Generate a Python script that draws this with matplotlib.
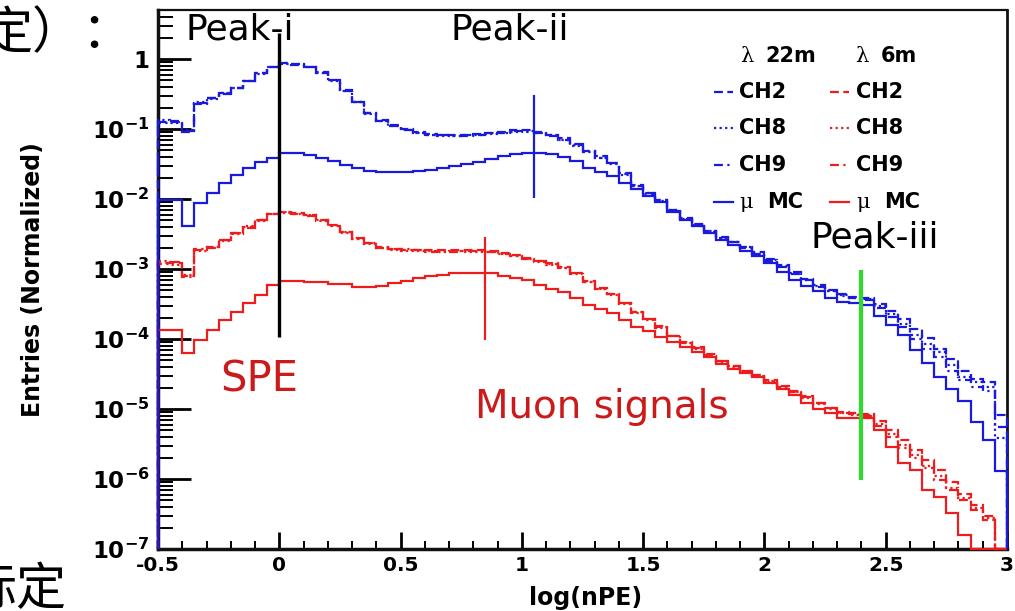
import numpy as np
import matplotlib
matplotlib.use("Agg")
import matplotlib.pyplot as plt
from matplotlib.lines import Line2D
from matplotlib.ticker import FixedLocator, FixedFormatter, LogLocator, NullFormatter, MultipleLocator, FuncFormatter

nan = np.nan

# ---- histogram binning: log10(nPE) from -0.5 to 3.0, 70 bins ----
x_lo, x_hi, n_bins = -0.5, 3.0, 70

# ---- normalized entries, stored as log10(entries); nan = empty bin ----
# attenuation length 22 m (blue)
log_ch2_22m = [-0.90, -0.89, -1.03, -0.63, -0.56, -0.49, -0.41, -0.31, -0.20, -0.11,
               -0.06, -0.07, -0.11, -0.19, -0.30, -0.44, -0.61, -0.77, -0.87, -0.94,
               -1.00, -1.04, -1.07, -1.08, -1.09, -1.08, -1.07, -1.05, -1.04, -1.02,
               -1.02, -1.04, -1.08, -1.13, -1.22, -1.31, -1.39, -1.48, -1.63, -1.80,
               -1.91, -2.01, -2.15, -2.27, -2.36, -2.45, -2.54, -2.61, -2.68, -2.76,
               -2.86, -2.94, -3.04, -3.14, -3.23, -3.30, -3.36, -3.40, -3.41, -3.50,
               -3.60, -3.71, -3.85, -3.99, -4.14, -4.28, -4.45, -4.57, -4.62, -5.09]
log_ch8_22m = [-0.87, -0.92, -1.02, -0.62, -0.57, -0.48, -0.42, -0.31, -0.21, -0.11,
               -0.07, -0.07, -0.12, -0.20, -0.31, -0.45, -0.62, -0.78, -0.88, -0.95,
               -1.02, -1.06, -1.09, -1.10, -1.10, -1.09, -1.09, -1.07, -1.05, -1.04,
               -1.03, -1.05, -1.09, -1.15, -1.24, -1.33, -1.41, -1.50, -1.65, -1.81,
               -1.92, -2.03, -2.16, -2.28, -2.37, -2.46, -2.55, -2.62, -2.69, -2.78,
               -2.87, -2.96, -3.06, -3.15, -3.24, -3.31, -3.37, -3.41, -3.43, -3.53,
               -3.64, -3.78, -3.94, -4.07, -4.18, -4.37, -4.54, -4.62, -4.68, -5.42]
log_ch9_22m = [-0.92, -0.90, -1.04, -0.64, -0.56, -0.50, -0.41, -0.32, -0.20, -0.12,
               -0.06, -0.08, -0.11, -0.20, -0.30, -0.45, -0.62, -0.77, -0.88, -0.96,
               -1.01, -1.06, -1.08, -1.09, -1.10, -1.10, -1.08, -1.06, -1.06, -1.03,
               -1.04, -1.05, -1.10, -1.16, -1.23, -1.32, -1.42, -1.49, -1.64, -1.81,
               -1.93, -2.02, -2.17, -2.28, -2.38, -2.47, -2.56, -2.62, -2.70, -2.79,
               -2.88, -2.97, -3.07, -3.16, -3.25, -3.32, -3.38, -3.42, -3.44, -3.56,
               -3.68, -3.83, -4.00, -4.14, -4.25, -4.45, -4.59, -4.68, -4.74, -5.25]
log_mc_22m = [-2.01, -2.01, -2.39, -2.05, -1.91, -1.77, -1.66, -1.56, -1.47, -1.41,
              -1.34, -1.34, -1.37, -1.41, -1.46, -1.51, -1.56, -1.60, -1.62, -1.62,
              -1.62, -1.60, -1.58, -1.56, -1.53, -1.50, -1.47, -1.43, -1.39, -1.36,
              -1.34, -1.34, -1.36, -1.40, -1.46, -1.55, -1.61, -1.67, -1.77, -1.85,
              -1.95, -2.04, -2.18, -2.30, -2.39, -2.49, -2.59, -2.66, -2.74, -2.82,
              -2.92, -3.04, -3.15, -3.24, -3.32, -3.41, -3.47, -3.48, -3.52, -3.67,
              -3.80, -3.94, -4.15, -4.34, -4.54, -4.72, -4.89, -5.19, -5.44, -5.89]

# attenuation length 6 m (red)
log_ch2_6m = [-2.91, -2.92, -3.10, -2.73, -2.69, -2.59, -2.49, -2.40, -2.30, -2.21,
              -2.19, -2.20, -2.23, -2.30, -2.37, -2.47, -2.56, -2.63, -2.69, -2.72,
              -2.73, -2.73, -2.73, -2.73, -2.73, -2.73, -2.73, -2.74, -2.77, -2.80,
              -2.84, -2.88, -2.92, -2.97, -3.05, -3.17, -3.27, -3.35, -3.48, -3.61,
              -3.71, -3.82, -3.95, -4.04, -4.12, -4.22, -4.31, -4.38, -4.45, -4.51,
              -4.59, -4.67, -4.74, -4.82, -4.91, -4.98, -5.04, -5.06, -5.07, -5.17,
              -5.30, -5.44, -5.59, -5.73, -5.87, -6.04, -6.21, -6.37, -6.53, nan]
log_ch8_6m = [-2.89, -2.94, -3.09, -2.74, -2.68, -2.60, -2.50, -2.39, -2.31, -2.22,
              -2.20, -2.21, -2.23, -2.31, -2.38, -2.48, -2.57, -2.64, -2.70, -2.73,
              -2.74, -2.74, -2.74, -2.75, -2.74, -2.75, -2.75, -2.76, -2.79, -2.82,
              -2.86, -2.90, -2.94, -2.99, -3.07, -3.19, -3.29, -3.37, -3.50, -3.63,
              -3.73, -3.84, -3.96, -4.06, -4.14, -4.24, -4.33, -4.40, -4.47, -4.53,
              -4.61, -4.69, -4.76, -4.84, -4.93, -5.00, -5.06, -5.08, -5.09, -5.21,
              -5.36, -5.51, -5.66, -5.81, -5.96, -6.13, -6.27, -6.41, -6.56, nan]
log_ch9_6m = [-2.93, -2.90, -3.11, -2.72, -2.70, -2.58, -2.49, -2.41, -2.30, -2.22,
              -2.18, -2.21, -2.24, -2.30, -2.38, -2.47, -2.57, -2.63, -2.70, -2.72,
              -2.72, -2.73, -2.75, -2.74, -2.75, -2.74, -2.74, -2.76, -2.78, -2.81,
              -2.85, -2.89, -2.93, -2.98, -3.06, -3.18, -3.28, -3.36, -3.49, -3.62,
              -3.72, -3.83, -3.96, -4.05, -4.13, -4.23, -4.32, -4.39, -4.46, -4.52,
              -4.60, -4.68, -4.75, -4.83, -4.92, -4.99, -5.05, -5.07, -5.10, -5.24,
              -5.40, -5.56, -5.70, -5.84, -6.01, -6.16, -6.30, -6.44, -6.59, nan]
log_mc_6m = [-3.87, -3.87, -4.20, -4.01, -3.87, -3.73, -3.61, -3.49, -3.37, -3.23,
             -3.17, -3.17, -3.19, -3.19, -3.21, -3.21, -3.26, -3.26, -3.24, -3.20,
             -3.17, -3.13, -3.10, -3.08, -3.06, -3.06, -3.06, -3.06, -3.10, -3.13,
             -3.16, -3.23, -3.29, -3.33, -3.41, -3.51, -3.57, -3.63, -3.73, -3.83,
             -3.89, -3.97, -4.04, -4.11, -4.19, -4.26, -4.36, -4.43, -4.49, -4.54,
             -4.63, -4.71, -4.80, -4.91, -5.00, -5.06, -5.13, -5.13, -5.13, -5.30,
             -5.54, -5.77, -5.87, -6.16, -6.26, -6.49, -6.80, nan, nan, nan]

# ---- peak markers: position in log(nPE) and vertical extent (log10 entries) ----
peak_x = [0.0, 0.85, 1.05, 2.4]
peak_lo = [-3.97, -4.01, -1.99, -6.01]
peak_hi = [0.37, -2.54, -0.51, -3.01]
peak_colors = ["black", "#ee1c1c", "#1a1adc", "#2bdc2b"]
peak_widths = [2.4, 1.6, 1.6, 3.0]

# ---- axis ticks ----
y_decades = [-7, -6, -5, -4, -3, -2, -1, 0]
y_tick_labels = [r"$10^{-7}$", r"$10^{-6}$", r"$10^{-5}$", r"$10^{-4}$",
                 r"$10^{-3}$", r"$10^{-2}$", r"$10^{-1}$", r"$1$"]

BLUE = "#1a1adc"
RED = "#ee1c1c"
TXT_RED = "#cc1a1a"

plt.rcParams["font.family"] = ["DejaVu Sans"]
plt.rcParams["font.weight"] = "bold"
plt.rcParams["mathtext.fontset"] = "dejavusans"
plt.rcParams["mathtext.default"] = "bf"
plt.rcParams["axes.unicode_minus"] = False

W, H = 1015, 611
fig = plt.figure(figsize=(W / 100, H / 100), dpi=100, facecolor="white")


def fx(px):
    return px / W


def fy(py):
    return 1 - py / H


ax = fig.add_axes([fx(158), fy(549), fx(1007) - fx(158), fy(10) - fy(549)])
ax.set_yscale("log")
y_min, y_max = 1e-7, 10 ** 0.70
edges = np.linspace(x_lo, x_hi, n_bins + 1)


def entries(logs):
    arr = np.asarray(logs, dtype=float)
    return np.where(np.isnan(arr), 0.0, 10.0 ** arr)


# red first so that the blue histogram edges sit on top along the left frame
series = [
    (log_ch2_6m, RED, (0, (4, 2))),
    (log_ch8_6m, RED, (0, (1, 1.5))),
    (log_ch9_6m, RED, (0, (4, 2, 1, 2))),
    (log_mc_6m, RED, "-"),
    (log_ch2_22m, BLUE, (0, (4, 2))),
    (log_ch8_22m, BLUE, (0, (1, 1.5))),
    (log_ch9_22m, BLUE, (0, (4, 2, 1, 2))),
    (log_mc_22m, BLUE, "-"),
]
for logs, col, ls in series:
    vals = entries(logs)
    ax.stairs(np.where(vals > y_min, vals, y_min), edges, baseline=y_min,
              color=col, linestyle=ls, linewidth=1.6, zorder=6, clip_on=False)

for xp, lo, hi, col, lw in zip(peak_x, peak_lo, peak_hi, peak_colors, peak_widths):
    ax.plot([xp, xp], [10.0 ** lo, 10.0 ** hi], color=col, linewidth=lw,
            solid_capstyle="butt", zorder=7, clip_on=False)

ax.set_xlim(x_lo, x_hi)
ax.set_ylim(y_min, y_max)

ax.yaxis.set_major_locator(FixedLocator([10.0 ** d for d in y_decades]))
ax.yaxis.set_major_formatter(FixedFormatter(y_tick_labels))
ax.yaxis.set_minor_locator(LogLocator(base=10, subs=np.arange(2, 10), numticks=30))
ax.yaxis.set_minor_formatter(NullFormatter())
ax.xaxis.set_major_locator(MultipleLocator(0.5))
ax.xaxis.set_minor_locator(MultipleLocator(0.1))
ax.xaxis.set_major_formatter(FuncFormatter(lambda v, p: "%g" % v))

ax.tick_params(axis="y", which="major", direction="in", length=24, width=2,
               labelsize=16.5, pad=6, color="black")
ax.tick_params(axis="y", which="minor", direction="in", length=11, width=1.4)
ax.tick_params(axis="x", which="major", direction="in", length=12, width=2,
               labelsize=14.5, pad=5)
ax.tick_params(axis="x", which="minor", direction="in", length=6, width=1.4)

for side, lw in (("left", 2.5), ("bottom", 2.5), ("top", 1.6), ("right", 2.0)):
    ax.spines[side].set_linewidth(lw)
    ax.spines[side].set_color("#111111")
    ax.spines[side].set_zorder(5)

# axis titles
fig.text(fx(33), fy(280), "Entries (Normalized)", rotation=90, ha="center",
         va="center", fontsize=17, fontweight="bold")
fig.text(fx(586), fy(598), "log(nPE)", ha="center", va="center",
         fontsize=17, fontweight="bold")

# peak annotations
fig.text(fx(240), fy(40), "Peak-i", ha="center", va="baseline", fontsize=26,
         fontweight="normal")
fig.text(fx(510), fy(40), "Peak-ii", ha="center", va="baseline", fontsize=26,
         fontweight="normal")
fig.text(fx(875), fy(248), "Peak-iii", ha="center", va="baseline", fontsize=26,
         fontweight="normal")
fig.text(fx(259), fy(392), "SPE", ha="center", va="baseline", fontsize=30,
         fontweight="normal", color=TXT_RED)
fig.text(fx(602), fy(418), "Muon signals", ha="center", va="baseline",
         fontsize=28, fontweight="normal", color=TXT_RED)

# legend
fig.text(fx(747), fy(62), "λ", ha="center", va="baseline", fontsize=15,
         fontweight="normal", family=["DejaVu Serif"])
fig.text(fx(765), fy(62), "22m", ha="left", va="baseline", fontsize=15)
fig.text(fx(862), fy(62), "λ", ha="center", va="baseline", fontsize=15,
         fontweight="normal", family=["DejaVu Serif"])
fig.text(fx(881), fy(62), "6m", ha="left", va="baseline", fontsize=15)

legend_rows = ["CH2", "CH8", "CH9", "MC"]
legend_styles = [(0, (4, 2)), (0, (1, 1.5)), (0, (4, 2, 1, 2)), "-"]
row_y = [92, 128, 165, 202]
for name, ls, ry in zip(legend_rows, legend_styles, row_y):
    for col, lx0, tx in ((BLUE, 714, 739), (RED, 830, 856)):
        fig.add_artist(Line2D([fx(lx0), fx(lx0 + 19)], [fy(ry), fy(ry)],
                              transform=fig.transFigure, color=col,
                              linestyle=ls, linewidth=1.6))
        if name == "MC":
            fig.text(fx(tx + 7), fy(ry), "μ", ha="center", va="center",
                     fontsize=15, fontweight="normal", family=["DejaVu Serif"])
            fig.text(fx(tx + 28), fy(ry), "MC", ha="left", va="center", fontsize=15)
        else:
            fig.text(fx(tx), fy(ry), name, ha="left", va="center", fontsize=15)

# surrounding slide text
fig.text(fx(-18), fy(34), "定）：", ha="left", va="center", fontsize=36,
         fontweight="normal", family=["Noto Sans CJK SC", "DejaVu Sans"])
fig.text(fx(-33), fy(590), "标定", ha="left", va="center", fontsize=36,
         fontweight="normal", family=["Noto Sans CJK SC", "DejaVu Sans"])

fig.savefig("out.png", dpi=100, facecolor="white")
